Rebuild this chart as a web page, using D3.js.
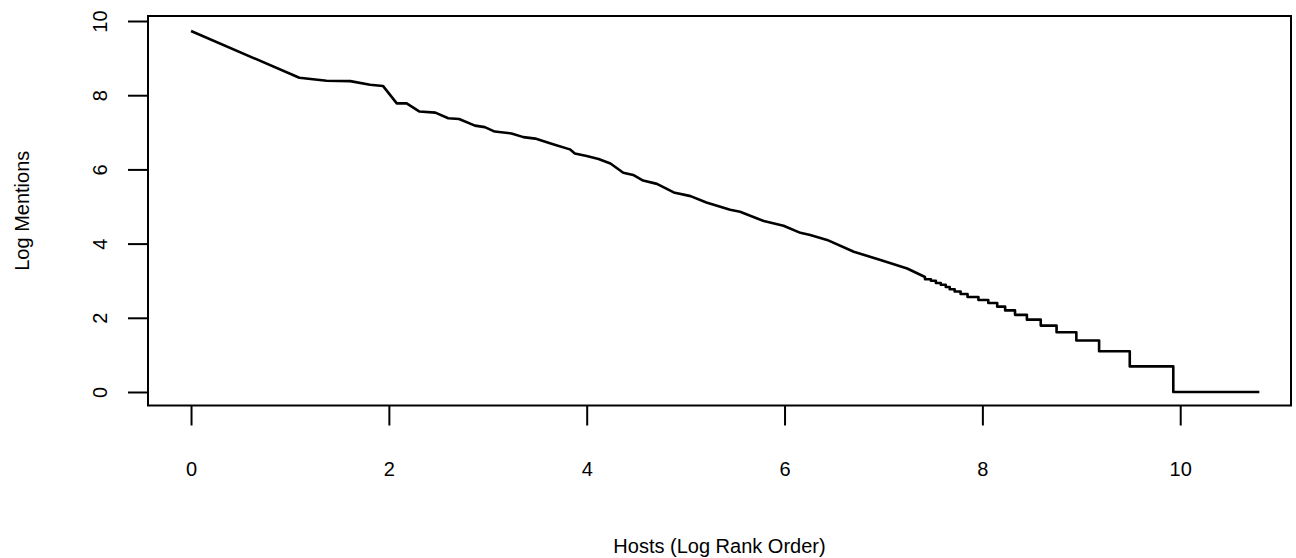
<!DOCTYPE html>
<html>
<head>
<meta charset="utf-8">
<script src="https://cdn.jsdelivr.net/npm/d3@7"></script>
<style>
  body { margin: 0; background: #fff; }
  svg text { font-family: "Liberation Sans", Arial, Helvetica, sans-serif; fill: #000; }
</style>
</head>
<body>
<svg id="chart" width="1296" height="558"></svg>
<script>
// upper part of the curve (log rank, log mentions)
const logRank = [0, 1.095, 1.37, 1.61, 1.81, 1.94, 2.08, 2.18, 2.31, 2.47, 2.60, 2.71, 2.87, 2.97,
  3.07, 3.24, 3.36, 3.48, 3.55, 3.66, 3.83, 3.88, 4.00, 4.12, 4.24, 4.37, 4.47, 4.57, 4.71, 4.88,
  5.05, 5.21, 5.45, 5.55, 5.79, 5.99, 6.16, 6.26, 6.43, 6.70, 6.97, 7.24, 7.42];
const logMentions = [9.73, 8.47, 8.39, 8.38, 8.28, 8.25, 7.78, 7.78, 7.56, 7.53, 7.38, 7.36, 7.18, 7.14,
  7.02, 6.97, 6.87, 6.83, 6.77, 6.68, 6.54, 6.43, 6.36, 6.28, 6.16, 5.91, 5.85, 5.70, 5.61, 5.38,
  5.28, 5.11, 4.91, 4.86, 4.61, 4.48, 4.29, 4.23, 4.10, 3.78, 3.56, 3.33, 3.10];

// tail: flat steps (level of log mentions, log rank where the step ends)
const tailLevel = [3.04, 3.00, 2.94, 2.89, 2.83, 2.77, 2.71, 2.64, 2.56, 2.48, 2.40, 2.30, 2.20,
  2.08, 1.95, 1.79, 1.61, 1.39, 1.10, 0.69, 0];
const tailEnd = [7.48, 7.53, 7.58, 7.63, 7.67, 7.72, 7.78, 7.85, 7.96, 8.06, 8.15, 8.23, 8.33,
  8.45, 8.59, 8.75, 8.95, 9.18, 9.49, 9.93, 10.80];

const xTicks = [0, 2, 4, 6, 8, 10];
const yTicks = [0, 2, 4, 6, 8, 10];

const xTitle = "Hosts (Log Rank Order)";
const yTitle = "Log Mentions";

const fontSize = 20;
const box = { left: 148, right: 1291, top: 16, bottom: 405.5 };

const svg = d3.select("#chart");

const x = d3.scaleLinear().domain([-0.435, 11.12]).range([box.left, box.right]);
const y = d3.scaleLinear().domain([-0.364, 10.135]).range([box.bottom, box.top]);

// build the point list
let points = logRank.map((r, i) => [r, logMentions[i]]);
let start = logRank[logRank.length - 1];
tailLevel.forEach((lv, i) => {
  points.push([start, lv]);
  points.push([tailEnd[i], lv]);
  start = tailEnd[i];
});

const line = d3.line()
  .x(d => x(d[0]))
  .y(d => y(d[1]));

svg.append("path")
  .datum(points)
  .attr("d", line)
  .attr("fill", "none")
  .attr("stroke", "#000")
  .attr("stroke-width", 2.6)
  .attr("stroke-linejoin", "round");

// frame
svg.append("rect")
  .attr("x", box.left)
  .attr("y", box.top)
  .attr("width", box.right - box.left)
  .attr("height", box.bottom - box.top)
  .attr("fill", "none")
  .attr("stroke", "#000")
  .attr("stroke-width", 2);

// x axis
const xAxis = svg.append("g")
  .attr("transform", `translate(0,${box.bottom})`)
  .call(d3.axisBottom(x).tickValues(xTicks).tickSize(20).tickFormat(d3.format("d")));
xAxis.select(".domain").remove();
xAxis.selectAll(".tick line").attr("stroke-width", 2);
xAxis.selectAll(".tick text")
  .attr("y", 70)
  .attr("dy", 0)
  .attr("font-size", fontSize)
  .attr("font-family", null);

// y axis, labels turned like R does
const yAxis = svg.append("g")
  .attr("transform", `translate(${box.left},0)`)
  .call(d3.axisLeft(y).tickValues(yTicks).tickSize(20).tickFormat(d3.format("d")));
yAxis.select(".domain").remove();
yAxis.selectAll(".tick line").attr("stroke-width", 2);
yAxis.selectAll(".tick text")
  .attr("transform", "rotate(-90)")
  .attr("x", 0)
  .attr("y", -41)
  .attr("dy", 0)
  .attr("text-anchor", "middle")
  .attr("font-size", fontSize)
  .attr("font-family", null);

// titles
svg.append("text")
  .attr("x", (box.left + box.right) / 2)
  .attr("y", 553)
  .attr("text-anchor", "middle")
  .attr("font-size", fontSize)
  .text(xTitle);

svg.append("text")
  .attr("transform", `translate(29,${(box.top + box.bottom) / 2}) rotate(-90)`)
  .attr("text-anchor", "middle")
  .attr("font-size", fontSize)
  .text(yTitle);
</script>
</body>
</html>
